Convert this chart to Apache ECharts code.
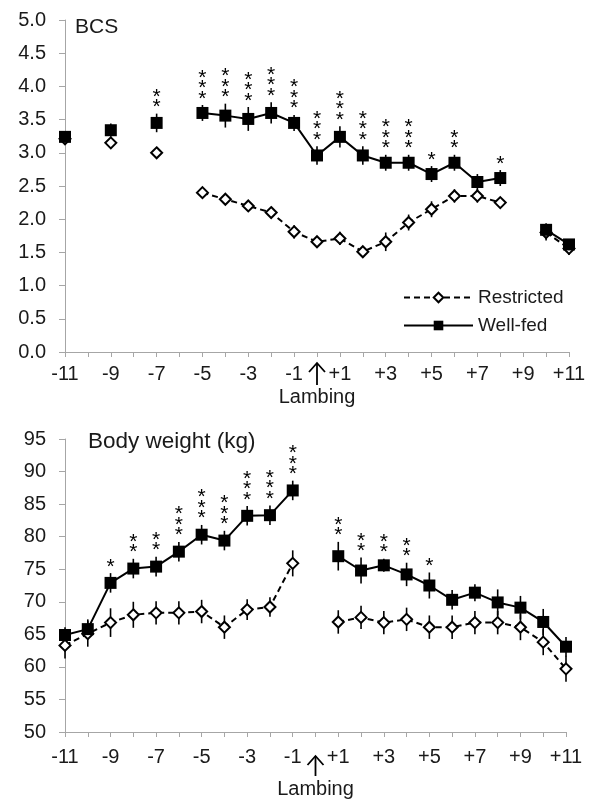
<!DOCTYPE html>
<html><head><meta charset="utf-8">
<script src="https://cdn.jsdelivr.net/npm/echarts@6/dist/echarts.min.js"></script>
<style>html,body{margin:0;padding:0;background:#fff}#c{width:594px;height:801px}</style>
</head><body><div id="c"></div>
<script>
// weeks relative to lambing
const weeks = [-11,-10,-9,-8,-7,-6,-5,-4,-3,-2,-1,0,1,2,3,4,5,6,7,8,9,10,11];

// BCS
const bcsWellFed   = [3.24,null,3.34,null,3.45,null,3.60,3.56,3.51,3.60,3.45,2.96,3.24,2.96,2.85,2.85,2.68,2.85,2.56,2.62,null,1.84,1.62];
const bcsWellFedSE = [0.08,null,0.10,null,0.14,null,0.12,0.18,0.18,0.16,0.12,0.14,0.16,0.14,0.12,0.12,0.12,0.12,0.12,0.12,null,0.10,0.08];
const bcsRestricted   = [3.21,null,3.15,null,3.00,null,2.40,2.30,2.20,2.10,1.81,1.66,1.71,1.51,1.66,1.95,2.15,2.35,2.35,2.25,null,1.80,1.56];
const bcsRestrictedSE = [0.05,null,0.05,null,0.05,null,0.05,0.06,0.06,0.06,0.10,0.08,0.10,0.08,0.14,0.12,0.12,0.10,0.10,0.08,null,0.12,0.10];
const bcsStars = [0,0,0,0,2,0,3,3,3,3,3,3,3,3,3,3,1,2,0,1,0,0,0];

// Body weight (kg)
const bwWellFed   = [64.9,65.8,72.9,75.1,75.4,77.7,80.3,79.4,83.2,83.3,87.1,null,77.0,74.8,75.6,74.2,72.5,70.3,71.4,69.9,69.1,66.9,63.1];
const bwWellFedSE = [1.2,1.5,1.5,1.5,1.5,1.5,1.5,1.5,1.5,1.5,1.5,null,2.2,2.0,1.0,1.8,2.0,1.5,1.3,2.0,1.8,2.0,1.5];
const bwRestricted   = [63.3,65.1,66.8,68.0,68.3,68.3,68.5,66.1,68.8,69.2,75.9,null,66.9,67.6,66.8,67.3,66.1,66.1,66.8,66.8,66.1,63.8,59.7];
const bwRestrictedSE = [2.0,2.0,2.2,2.0,1.8,1.8,1.8,1.8,1.6,1.5,2.0,null,1.8,1.8,1.8,1.8,1.8,1.8,1.8,1.8,2.0,2.0,2.0];
const bwStars = [0,0,1,2,2,3,3,3,3,3,3,0,2,2,2,2,1,0,0,0,0,0,0];

const xTickLabels = {'-11':'-11','-9':'-9','-7':'-7','-5':'-5','-3':'-3','-1':'-1','1':'+1','3':'+3','5':'+5','7':'+7','9':'+9','11':'+11'};
const lambingLabel = 'Lambing';
const lambingWeek = 0;

const FONT = 'Liberation Sans, Arial, sans-serif';
const AXIS_COLOR = '#a6a6a6';
const TXT = '#1a1a1a';

function pairs(vals){ return weeks.map((w,i)=>[w, vals[i] === null ? '-' : vals[i]]); }
function errData(vals, se){ const out=[]; weeks.forEach((w,i)=>{ if(vals[i]!==null) out.push([w, vals[i], se[i]]); }); return out; }
function starData(vals, se, st){ const out=[]; weeks.forEach((w,i)=>{ if(vals[i]!==null && st[i]>0) out.push([w, vals[i], se[i], st[i]]); }); return out; }

function errSeries(idx, vals, se){
  return {type:'custom', xAxisIndex:idx, yAxisIndex:idx, z:1, silent:true,
    data: errData(vals, se),
    renderItem(params, api){
      const x=api.value(0), y=api.value(1), e=api.value(2);
      const p1=api.coord([x,y-e]), p2=api.coord([x,y+e]);
      return {type:'line', shape:{x1:p1[0],y1:p1[1],x2:p2[0],y2:p2[1]}, style:{stroke:'#000', lineWidth:1.6}};
    }};
}
function starSeries(idx, vals, se, st, gap){
  return {type:'custom', xAxisIndex:idx, yAxisIndex:idx, z:5, silent:true,
    data: starData(vals, se, st),
    renderItem(params, api){
      const x=api.value(0), y=api.value(1), e=api.value(2), n=api.value(3);
      const p=api.coord([x,y+e]);
      return {type:'text', style:{text: new Array(n).fill('*').join('\n'), x:p[0], y:p[1]-gap,
        align:'center', verticalAlign:'bottom', font:'21px '+FONT, lineHeight:10.5, fill:'#000'}};
    }};
}
function lineSeries(idx, name, vals, restricted){
  return {type:'line', name, xAxisIndex:idx, yAxisIndex:idx, z:3, data: pairs(vals), connectNulls:false,
    symbol: restricted ? 'diamond' : 'rect', symbolSize: restricted ? 11 : 12,
    itemStyle: restricted ? {color:'#fff', borderColor:'#000', borderWidth:2} : {color:'#000', borderColor:'#000', borderWidth:0},
    lineStyle: {color:'#000', width:2, type: restricted ? [6,4] : 'solid'},
    animation:false};
}
function xAxis(idx, margin, gapH){
  return {type:'value', gridIndex:idx, min:-11, max:11, interval:1,
    axisLine:{onZero:false, lineStyle:{color:AXIS_COLOR, width:1}}, axisTick:{show:true, length:5, lineStyle:{color:AXIS_COLOR}},
    splitLine:{show:false},
    axisLabel:{margin:margin, color:TXT, fontFamily:FONT, fontSize:20, showMinLabel:true, showMaxLabel:true,
      formatter(v){ if(v===lambingWeek) return '{a| }\n{l|'+lambingLabel+'}'; return xTickLabels[String(v)] || ''; },
      rich:{a:{fontSize:10, lineHeight:gapH}, l:{fontFamily:FONT, fontSize:20, lineHeight:22, color:TXT}}}};
}
function yAxis(idx, min, max, step, dec){
  return {type:'value', gridIndex:idx, min, max, interval:step,
    axisLine:{show:true, onZero:false, lineStyle:{color:AXIS_COLOR, width:1}}, axisTick:{show:true, length:6, lineStyle:{color:AXIS_COLOR}},
    splitLine:{show:false},
    axisLabel:{margin:19, color:TXT, fontFamily:FONT, fontSize:20, formatter: v => v.toFixed(dec)}};
}

const chart = echarts.init(document.getElementById('c'), null, {renderer:'canvas'});
chart.setOption({
  animation:false,
  backgroundColor:'#fff',
  title:[
    {text:'BCS', left:70, top:12, textStyle:{fontFamily:FONT, fontSize:21, fontWeight:'normal', color:TXT}},
    {text:'Body weight (kg)', left:83, top:425, textStyle:{fontFamily:FONT, fontSize:22.5, fontWeight:'normal', color:TXT}}
  ],
  legend:{orient:'vertical', left:398, top:283, itemWidth:69, itemHeight:12, itemGap:9,
    data:['Restricted','Well-fed'], textStyle:{fontFamily:FONT, fontSize:19, color:TXT}, selectedMode:false},
  grid:[
    {left:65, top:20, width:504, height:332},
    {left:65, top:439, width:501, height:293}
  ],
  xAxis:[xAxis(0, 12, 22), xAxis(1, 15, 31)],
  yAxis:[yAxis(0,0,5,0.5,1), yAxis(1,50,95,5,0)],
  series:[
    errSeries(0, bcsRestricted, bcsRestrictedSE),
    errSeries(0, bcsWellFed, bcsWellFedSE),
    lineSeries(0, 'Restricted', bcsRestricted, true),
    lineSeries(0, 'Well-fed', bcsWellFed, false),
    starSeries(0, bcsWellFed, bcsWellFedSE, bcsStars, 1),
    errSeries(1, bwRestricted, bwRestrictedSE),
    errSeries(1, bwWellFed, bwWellFedSE),
    lineSeries(1, 'Restricted', bwRestricted, true),
    lineSeries(1, 'Well-fed', bwWellFed, false),
    starSeries(1, bwWellFed, bwWellFedSE, bwStars, 1)
  ]
});

// Lambing arrows, placed from the axes' own scales
function arrowAt(idx, yMin, offTop, len){
  const p = chart.convertToPixel({xAxisIndex:idx, yAxisIndex:idx}, [lambingWeek, yMin]);
  const x = p[0], y0 = p[1] + offTop, y1 = y0 + len;
  return {type:'group', children:[
    {type:'line', shape:{x1:x, y1:y0, x2:x, y2:y1}, style:{stroke:'#000', lineWidth:1.8}},
    {type:'polyline', shape:{points:[[x-8,y0+9],[x,y0],[x+8,y0+9]]}, style:{stroke:'#000', fill:'none', lineWidth:1.8}}
  ]};
}
chart.setOption({graphic:[arrowAt(0, 0, 11, 22), arrowAt(1, 50, 24, 20)]});
</script></body></html>
